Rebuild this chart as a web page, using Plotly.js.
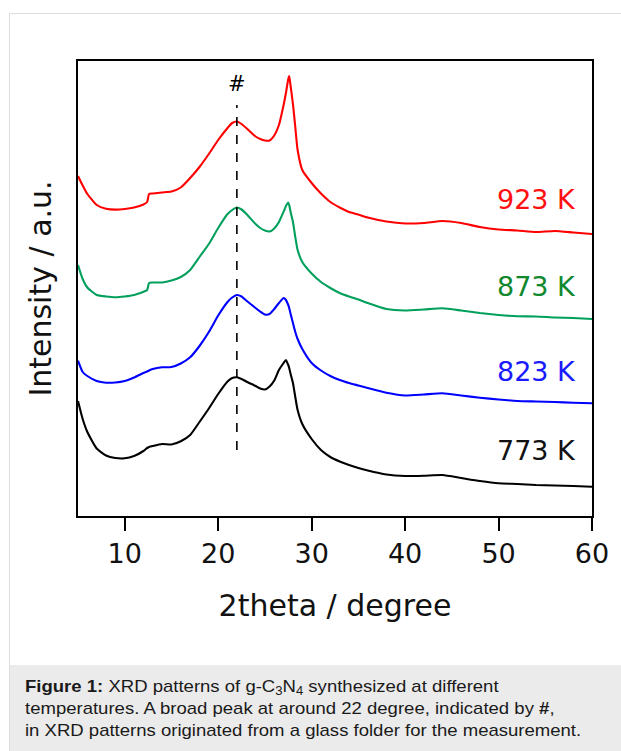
<!DOCTYPE html>
<html>
<head>
<meta charset="utf-8">
<script src="https://cdn.plot.ly/plotly-3.0.1.min.js"></script>
<style>
  html, body { margin: 0; padding: 0; background: #ffffff; }
  #wrap { position: relative; width: 621px; height: 751px; overflow: hidden; background: #fff; }
  #frame { position: absolute; left: 9px; top: 13px; width: 700px; height: 800px;
           border-left: 1px solid #dddddd; border-top: 1px solid #dddddd; box-sizing: border-box; }
  #chart { position: absolute; left: 0; top: 0; width: 621px; height: 751px; }
  #caption { position: absolute; left: 10px; top: 665px; width: 611px; height: 86px; background: #ebebeb; }
  #captext { position: absolute; left: 15px; top: 11px; width: 560px; white-space: nowrap;
             font-family: "Liberation Sans", Arial, sans-serif; font-size: 17px; line-height: 22px; color: #1a1a1a;
             transform: scaleX(1.09); transform-origin: 0 0; }
  #captext sub { font-size: 12px; vertical-align: -3px; line-height: 0; }
</style>
</head>
<body>
<div id="wrap">
  <div id="frame"></div>
  <div id="chart"></div>
  <div id="caption"><div id="captext"><b>Figure 1:</b> XRD patterns of g-C<sub>3</sub>N<sub>4</sub> synthesized at different<br>temperatures. A broad peak at around 22 degree, indicated by <b>#</b>,<br>in XRD patterns originated from a glass folder for the measurement.</div></div>
</div>
<script>
// 2theta (degree)
const twoTheta = [5,5.5,6,7,8,9,10,11,12,12.4,12.6,13,14,15,16,17,18,19,20,21,21.5,22,22.5,23,24,24.5,25,25.5,26,26.5,27,27.25,27.5,27.6,27.75,28,28.25,28.5,29,30,31,32,33,34,35,36,38,40,42,44,46,48,50,52,54,56,58,60];

// Intensity (a.u., curves offset as displayed)
const i923 = [340,330.5,322,311,307.3,306.4,307,308.5,311.5,314,322,322.5,323.5,324.5,328.5,338,349,362,376,388,393,394.5,392,388,379.5,377,375.5,375.5,380.5,391,411,423,437,440,430,412,389,366,346,333,322.5,314,308.5,304,301.5,298.5,294.5,292.5,293,295,293,289,286.5,285.5,284,285,283.5,282];
const i873 = [251,237,228.5,221,219.5,218.7,219.5,221,224.3,226,233,233.5,233.5,235.5,239,246,259,272,288,302,306,308.5,306.5,302.3,292,288,285.5,284.5,287.5,294,304.3,310,313.5,311,304,294,279,266,254,242.5,234,228,223,219.5,216.5,213,207,205.5,206.5,207.7,205.5,203,201,199.7,199.5,198.5,198,197];
const i823 = [155.3,144,140,135,133.3,133.5,135,138.5,143,144.5,145.5,147,148.7,149,152.5,158.7,170,184,200.5,214,218.5,221,219.5,215.5,208,204.3,201.5,202,207,213,218,216,211,208,202,193,184,177,167,153,145.5,140,136,133,130.5,128,123.3,120.5,121.5,122.7,120.5,118.3,116.5,115,114.5,114,113.3,112.7];
const i773 = [115,97,84,67.5,60.5,58,57.7,60,65,68,69,70,72,71.5,74.7,81,94,107.5,122,134.5,138,138.7,137,134.5,130,127.5,126.5,129.5,135.5,146,153,156,151,148,142,133,119,106,92,77,66,59,54.5,51,48,45.5,41.5,40,40.3,41,38,35,32.7,32,31,30.5,30,29.3];

const seriesNames = ["923 K","873 K","823 K","773 K"];
const seriesData = [i923, i873, i823, i773];
const lineColors = ["#ff0000","#00a05c","#0000ff","#000000"];
const labelColors = ["#ff1010","#12882e","#1a1aff","#111111"];
const labelY = [316.7, 229.5, 144.3, 65.3];
const glassPeak = 22;

const traces = seriesData.map((ys, k) => ({
  x: twoTheta, y: ys, type: "scatter", mode: "lines", name: seriesNames[k],
  line: {color: lineColors[k], width: 2.1, shape: "spline", smoothing: 0.5},
  showlegend: false, hoverinfo: "skip"
}));

const annotations = seriesNames.map((n, k) => ({
  x: 58.5, y: labelY[k], xref: "x", yref: "y", text: n, showarrow: false,
  xanchor: "right", yanchor: "middle",
  font: {family: "DejaVu Sans, Verdana, sans-serif", size: 27, color: labelColors[k]}
}));
annotations.push({
  x: glassPeak, y: 432, xref: "x", yref: "y", text: "#", showarrow: false,
  xanchor: "center", yanchor: "middle",
  font: {family: "DejaVu Sans, Verdana, sans-serif", size: 21, color: "#000"}
});

const layout = {
  width: 621, height: 751,
  margin: {l: 78, r: 29, t: 61, b: 235},
  paper_bgcolor: "rgba(0,0,0,0)", plot_bgcolor: "rgba(0,0,0,0)",
  font: {family: "DejaVu Sans, Verdana, sans-serif", color: "#111"},
  xaxis: {
    range: [5, 60], tickvals: [10,20,30,40,50,60], ticktext: ["10","20","30","40","50","60"],
    ticks: "outside", ticklen: 13, tickwidth: 2, tickcolor: "#000",
    showline: true, linewidth: 2, linecolor: "#000", mirror: true,
    showgrid: false, zeroline: false,
    tickfont: {size: 27, color: "#111"},
    title: {text: "2theta / degree", font: {size: 30, color: "#111"}, standoff: 27}
  },
  yaxis: {
    range: [0, 455], showticklabels: false, ticks: "",
    showline: true, linewidth: 2, linecolor: "#000", mirror: true,
    showgrid: false, zeroline: false,
    title: {text: "Intensity / a.u.", font: {size: 30, color: "#111"}, standoff: 16}
  },
  shapes: [{
    type: "line", xref: "x", yref: "y", x0: glassPeak, x1: glassPeak, y0: 66, y1: 411,
    line: {color: "#000", width: 1.6, dash: "dash"}
  }],
  annotations: annotations
};

Plotly.newPlot("chart", traces, layout, {displayModeBar: false, staticPlot: true});
</script>
</body>
</html>
